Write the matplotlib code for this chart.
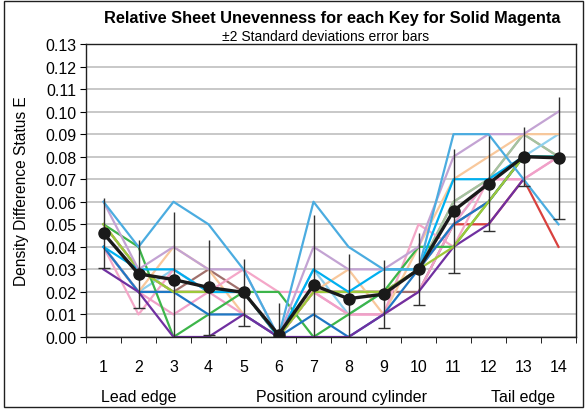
import numpy as np
import matplotlib
matplotlib.use("Agg")
import matplotlib.pyplot as plt
from matplotlib.patches import Rectangle

plt.rcParams['font.family'] = ['Liberation Sans', 'DejaVu Sans']

keys = np.arange(1, 15)
key_labels = [str(k) for k in keys]

# relative unevenness per key, one line per sheet series
series = [
    ('#C8A0A0', [0.05, 0.03, 0.02, 0.02, 0.02, 0.00, 0.02, 0.02, 0.02, 0.03, 0.06, 0.07, 0.09, 0.08]),
    ('#A0706C', [0.04, 0.02, 0.02, 0.03, 0.02, 0.00, 0.02, 0.02, 0.02, 0.02, 0.05, 0.06, 0.08, 0.08]),
    ('#D9413E', [0.05, 0.03, 0.02, 0.02, 0.02, 0.00, 0.02, 0.02, 0.02, 0.03, 0.05, 0.05, 0.07, 0.04]),
    ('#A4C4A0', [0.05, 0.03, 0.02, 0.02, 0.02, 0.00, 0.02, 0.02, 0.02, 0.03, 0.06, 0.07, 0.09, 0.08]),
    ('#8FD0EE', [0.04, 0.02, 0.03, 0.02, 0.02, 0.00, 0.03, 0.01, 0.02, 0.03, 0.05, 0.07, 0.08, 0.09]),
    ('#F8C89C', [0.04, 0.02, 0.04, 0.03, 0.01, 0.00, 0.02, 0.03, 0.01, 0.04, 0.07, 0.08, 0.09, 0.09]),
    ('#F4A7C8', [0.04, 0.01, 0.03, 0.02, 0.03, 0.02, 0.02, 0.01, 0.01, 0.05, 0.04, 0.07, 0.07, 0.08]),
    ('#F0A0C8', [0.04, 0.02, 0.01, 0.02, 0.01, 0.00, 0.02, 0.01, 0.01, 0.02, 0.05, 0.07, 0.07, 0.08]),
    ('#3DB54A', [0.05, 0.04, 0.00, 0.01, 0.02, 0.02, 0.00, 0.01, 0.02, 0.04, 0.04, 0.06, 0.08, 0.08]),
    ('#1F77C4', [0.04, 0.02, 0.02, 0.01, 0.01, 0.00, 0.01, 0.00, 0.01, 0.03, 0.05, 0.06, 0.08, 0.08]),
    ('#7030A0', [0.03, 0.02, 0.00, 0.00, 0.01, 0.00, 0.00, 0.00, 0.01, 0.02, 0.04, 0.05, 0.07, np.nan]),
    ('#9DC83A', [0.05, 0.03, 0.02, 0.02, 0.02, 0.00, 0.02, 0.02, 0.02, 0.03, 0.04, 0.06, 0.08, 0.08]),
    ('#00B0F0', [0.04, 0.03, 0.03, 0.02, 0.02, 0.00, 0.03, 0.02, 0.03, 0.03, 0.07, 0.07, 0.08, 0.08]),
    ('#C3A3D3', [0.06, 0.03, 0.04, 0.03, 0.03, 0.00, 0.04, 0.03, 0.03, 0.04, 0.08, 0.09, 0.09, 0.10]),
    ('#4BACE0', [0.06, 0.04, 0.06, 0.05, 0.03, 0.00, 0.06, 0.04, 0.03, 0.03, 0.09, 0.09, 0.07, 0.05]),
]

mean_vals = [0.046, 0.028, 0.0255, 0.022, 0.0198, 0.001, 0.023, 0.017, 0.019, 0.030, 0.056, 0.068, 0.080, 0.0795]
err_2sd = [0.0155, 0.015, 0.030, 0.021, 0.015, 0.014, 0.031, 0.020, 0.015, 0.016, 0.0275, 0.021, 0.013, 0.027]

fig = plt.figure(figsize=(5.88, 4.10), dpi=100)
ax = fig.add_axes([86/588, 72/410, 490/588, 293/410])

for c, v in series:
    ax.plot(keys, v, color=c, lw=1.6, zorder=2)

mean_vals = np.array(mean_vals)
err_2sd = np.array(err_2sd)
ax.errorbar(keys, mean_vals, yerr=err_2sd, fmt='none', ecolor='#303030', elinewidth=1.0, capsize=0, zorder=3)
ax.plot(keys, mean_vals - err_2sd, ls='none', marker='_', ms=8, mew=1.0, color='#303030', zorder=3)
ax.plot(keys, mean_vals, color='#1a1a1a', lw=2.4, marker='o', ms=8, zorder=4)

ax.set_xlim(0.5, 14.5)
ax.set_ylim(0, 0.13)
ax.set_yticks(np.arange(0, 0.131, 0.01))
ax.set_yticklabels([f'{t:.2f}' for t in np.arange(0, 0.131, 0.01)], fontsize=11.5)
ax.set_xticks(keys)
ax.set_xticklabels(key_labels, fontsize=11.5)
ax.set_xticks(np.arange(0.5, 15, 1), minor=True)
ax.tick_params(axis='x', which='major', length=0, pad=16)
ax.tick_params(axis='x', which='minor', length=4, direction='out')
ax.tick_params(axis='y', length=4, direction='out', pad=3)
ax.grid(axis='y', color='#C4C4C4', lw=1.3, zorder=0)
ax.set_axisbelow(True)
for s in ax.spines.values():
    s.set_color('#202020')
    s.set_linewidth(1.0)

ax.set_ylabel('Density Difference Status E', fontsize=11.2)
ax.yaxis.label.set_va('center')
ax.yaxis.set_label_coords((22 - 86) / 490, 0.5)

fig.text(332, 391, 'Relative Sheet Unevenness for each Key for Solid Magenta',
         transform=None, ha='center', va='center', fontsize=11.8, fontweight='bold')
fig.text(326, 373, '±2 Standard deviations error bars', transform=None,
         ha='center', va='center', fontsize=10)

ax.text(2, -0.0265, 'Lead edge', ha='center', va='center', fontsize=11.5)
ax.text(7.8, -0.0265, 'Position around cylinder', ha='center', va='center', fontsize=11.5)
ax.text(13, -0.0265, 'Tail edge', ha='center', va='center', fontsize=11.5)

fig.patches.append(Rectangle((0.006, 0.004), 0.986, 0.992, transform=fig.transFigure,
                             fill=False, edgecolor='#202020', lw=1.0))

fig.savefig('out.png', dpi=100)
